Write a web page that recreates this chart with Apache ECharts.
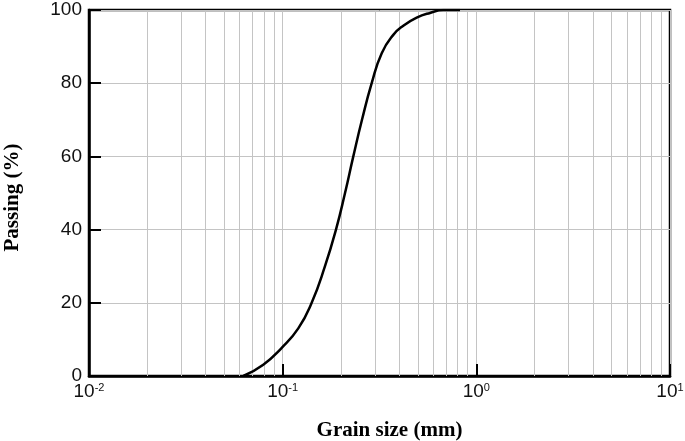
<!DOCTYPE html>
<html>
<head>
<meta charset="utf-8">
<script src="https://cdn.jsdelivr.net/npm/echarts@6/dist/echarts.min.js"></script>
<style>
html,body{margin:0;padding:0;background:#fff;}
#chart{width:685px;height:441px;}
</style>
</head>
<body>
<div id="chart"></div>
<script>
// Grain size distribution
const grainSize = [0.0626, 0.0794, 0.0989, 0.1204, 0.1412, 0.1654, 0.1885, 0.2099, 0.2316, 0.2568, 0.2882, 0.3247, 0.3726, 0.4196, 0.4920, 0.5763, 0.6753, 0.8233];
const passing   = [0,      3.1,    7.7,    13,     20,     30,     40,     50,     60,     70,     80,     88.2,   93.2,   95.7,   97.9,   99.2,   100,    100];
const minorGrid = [0.02,0.03,0.04,0.05,0.06,0.07,0.08,0.09,0.2,0.3,0.4,0.5,0.6,0.7,0.8,0.9,2,3,4,5,6,7,8,9];
const yTicks = [0, 20, 40, 60, 80, 100];

const chart = echarts.init(document.getElementById('chart'), null, {renderer:'canvas'});
const gridColor = '#c4c4c4';
chart.setOption({
  animation:false,
  grid:{left:89, right:15, top:10, bottom:65, outerBoundsMode:'none', containLabel:false,
        show:true, borderColor:'#000', borderWidth:2.5, backgroundColor:'transparent'},
  xAxis:{
    type:'log', logBase:10, min:0.01, max:10, interval:1,
    name:'Grain size (mm)', nameLocation:'middle', nameGap:44,
    nameTextStyle:{fontFamily:'Liberation Serif', fontWeight:'bold', fontSize:21, color:'#000', padding:[0,0,0,20]},
    axisLine:{show:true, onZero:false, lineStyle:{color:'#000', width:2.5}},
    axisTick:{show:true, inside:true, length:12, lineStyle:{color:'#000', width:2}},
    splitLine:{show:true, lineStyle:{color:gridColor, width:1}},
    axisLabel:{
      margin:6,
      formatter:function(v){ return '{b|10}{s|' + Math.round(Math.log10(v)) + '}'; },
      rich:{
        b:{fontFamily:'Liberation Sans', fontSize:19, color:'#111', verticalAlign:'bottom'},
        s:{fontFamily:'Liberation Sans', fontSize:11, color:'#111', verticalAlign:'top'}
      }
    }
  },
  yAxis:{
    type:'value', min:0, max:100, interval:20,
    name:'Passing (%)', nameLocation:'middle', nameGap:66, nameRotate:90,
    nameTextStyle:{fontFamily:'Liberation Serif', fontWeight:'bold', fontSize:21, color:'#000', padding:[0,9,0,0]},
    axisLine:{show:true, lineStyle:{color:'#000', width:2.5}},
    axisTick:{show:true, inside:true, length:12, lineStyle:{color:'#000', width:2}},
    splitLine:{show:true, lineStyle:{color:gridColor, width:1}},
    axisLabel:{margin:7, fontFamily:'Liberation Sans', fontSize:19, color:'#111',
      formatter:function(v){ return yTicks.indexOf(v) >= 0 ? String(v) : ''; }}
  },
  series:[
    {
      type:'line', data:[], silent:true,
      markLine:{
        silent:true, symbol:'none', animation:false,
        label:{show:false},
        lineStyle:{color:gridColor, width:1, type:'solid'},
        data: minorGrid.map(v => ({xAxis:v}))
      }
    },
    {
      type:'line',
      data: grainSize.map((g,i) => [g, passing[i]]),
      smooth:0.5,
      showSymbol:false, symbol:'none',
      lineStyle:{color:'#000', width:2.5},
      z:5
    }
  ]
});
</script>
</body>
</html>
